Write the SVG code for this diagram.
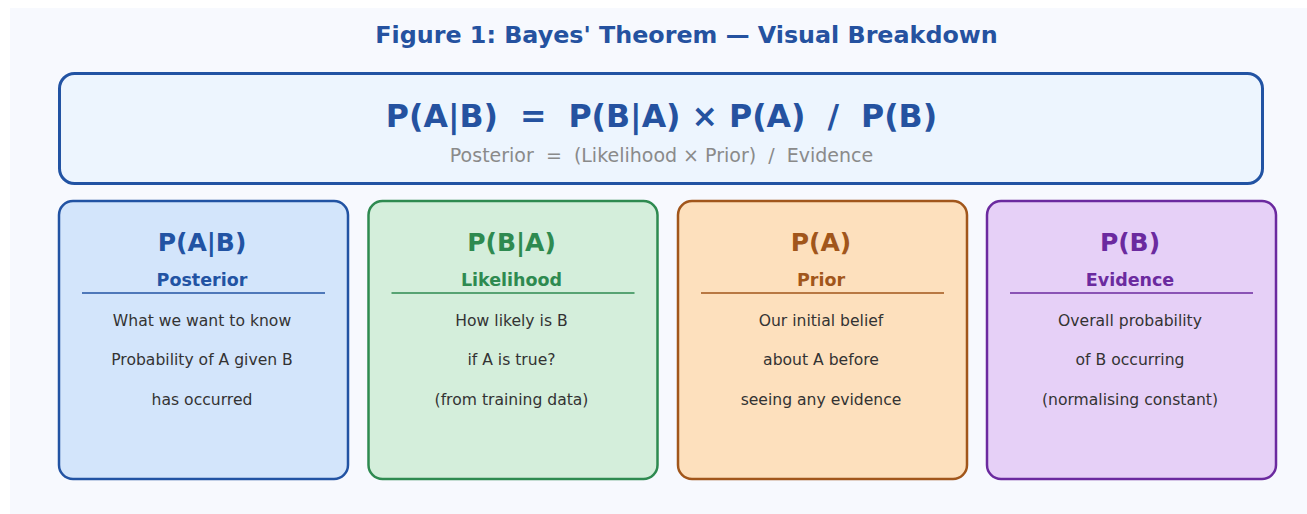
<svg xmlns="http://www.w3.org/2000/svg" width="1307" height="514" viewBox="0 0 1307 514">
  <style>
    text { font-family: "DejaVu Sans", "Liberation Sans", sans-serif; text-anchor: middle; }
    .title { font-size: 23.8px; font-weight: bold; fill: #2552a0; }
    .formula { font-size: 31.6px; font-weight: bold; fill: #2552a0; }
    .sub { font-size: 19px; fill: #8a8a8a; }
    .head { font-size: 25px; font-weight: bold; }
    .label { font-size: 17.5px; font-weight: bold; }
    .body { font-size: 15.6px; fill: #333333; }
    .card { stroke-width: 2.5; }
    .rule { stroke-width: 1.5; }
  </style>

  <!-- page background -->
  <rect x="0" y="0" width="1307" height="514" fill="#ffffff"/>
  <rect x="10" y="8" width="1297" height="506" fill="#f7f9fe"/>

  <text class="title" x="686.5" y="43">Figure 1: Bayes' Theorem — Visual Breakdown</text>

  <!-- equation banner -->
  <g id="equation">
    <rect x="59.5" y="73.5" width="1203" height="110" rx="15" fill="#edf5fe" stroke="#2253a3" stroke-width="3"/>
    <text class="formula" x="661.5" y="127" xml:space="preserve">P(A|B)  =  P(B|A) × P(A)  /  P(B)</text>
    <text class="sub" x="661.5" y="162" xml:space="preserve">Posterior  =  (Likelihood × Prior)  /  Evidence</text>
  </g>

  <!-- posterior -->
  <g id="posterior">
    <rect class="card" x="59" y="201" width="289" height="278" rx="14" fill="#d3e5fb" stroke="#2253a3"/>
    <text class="head" x="202" y="251" fill="#2253a3">P(A|B)</text>
    <text class="label" x="202" y="286" fill="#2253a3">Posterior</text>
    <line class="rule" x1="82" y1="293" x2="325" y2="293" stroke="#2253a3"/>
    <text class="body" x="202" y="326">What we want to know</text>
    <text class="body" x="202" y="365">Probability of A given B</text>
    <text class="body" x="202" y="405">has occurred</text>
  </g>

  <!-- likelihood -->
  <g id="likelihood">
    <rect class="card" x="368.5" y="201" width="289" height="278" rx="14" fill="#d4eedb" stroke="#2e8a50"/>
    <text class="head" x="511.5" y="251" fill="#2e8a50">P(B|A)</text>
    <text class="label" x="511.5" y="286" fill="#2e8a50">Likelihood</text>
    <line class="rule" x1="391.5" y1="293" x2="634.5" y2="293" stroke="#2e8a50"/>
    <text class="body" x="511.5" y="326">How likely is B</text>
    <text class="body" x="511.5" y="365">if A is true?</text>
    <text class="body" x="511.5" y="405">(from training data)</text>
  </g>

  <!-- prior -->
  <g id="prior">
    <rect class="card" x="678" y="201" width="289" height="278" rx="14" fill="#fde0bd" stroke="#a1561b"/>
    <text class="head" x="821" y="251" fill="#a1561b">P(A)</text>
    <text class="label" x="821" y="286" fill="#a1561b">Prior</text>
    <line class="rule" x1="701" y1="293" x2="944" y2="293" stroke="#a1561b"/>
    <text class="body" x="821" y="326">Our initial belief</text>
    <text class="body" x="821" y="365">about A before</text>
    <text class="body" x="821" y="405">seeing any evidence</text>
  </g>

  <!-- evidence -->
  <g id="evidence">
    <rect class="card" x="987" y="201" width="289" height="278" rx="14" fill="#e6d0f7" stroke="#6b2a9f"/>
    <text class="head" x="1130" y="251" fill="#6b2a9f">P(B)</text>
    <text class="label" x="1130" y="286" fill="#6b2a9f">Evidence</text>
    <line class="rule" x1="1010" y1="293" x2="1253" y2="293" stroke="#6b2a9f"/>
    <text class="body" x="1130" y="326">Overall probability</text>
    <text class="body" x="1130" y="365">of B occurring</text>
    <text class="body" x="1130" y="405">(normalising constant)</text>
  </g>

  <!-- no connectors between the cards -->
  <g id="connectors"/>
</svg>
